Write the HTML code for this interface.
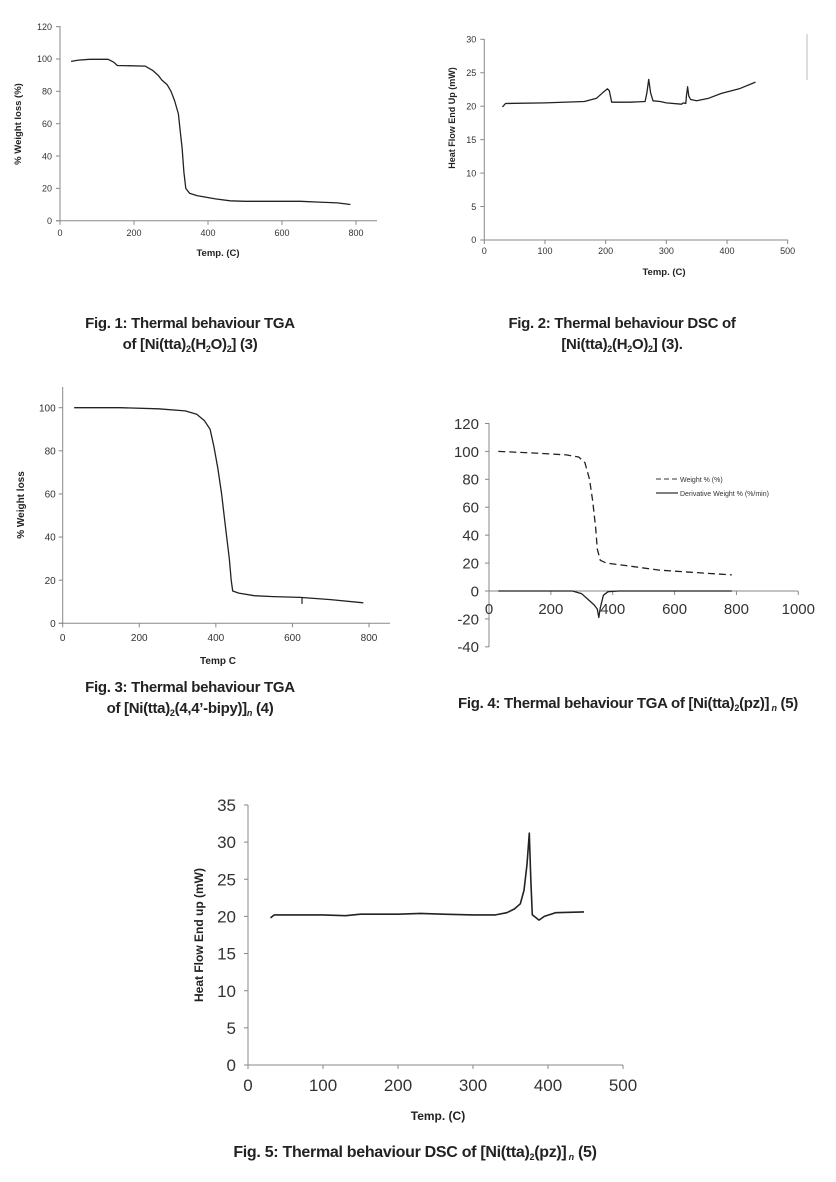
<!DOCTYPE html>
<html><head><meta charset="utf-8">
<style>
body{margin:0;background:#fff;width:836px;height:1182px;overflow:hidden;position:relative;font-family:"Liberation Sans",sans-serif;}
svg{position:absolute;left:0;top:0}
.cap{position:absolute;font-weight:bold;font-size:15px;color:#222;text-align:center;line-height:21px;letter-spacing:-0.3px}
.cap sub{font-size:9px;vertical-align:-3px;line-height:0}
</style></head><body>
<svg id="s" width="836" height="1182" xmlns="http://www.w3.org/2000/svg"></svg>
<div class="cap" style="left:40px;top:313px;width:300px">Fig. 1: Thermal behaviour TGA<br>of [Ni(tta)<sub>2</sub>(H<sub>2</sub>O)<sub>2</sub>] (3)</div>
<div class="cap" style="left:472px;top:313px;width:300px">Fig. 2: Thermal behaviour DSC of<br>[Ni(tta)<sub>2</sub>(H<sub>2</sub>O)<sub>2</sub>] (3).</div>
<div class="cap" style="left:40px;top:677px;width:300px">Fig. 3: Thermal behaviour TGA<br>of [Ni(tta)<sub>2</sub>(4,4’-bipy)]<sub><i>n</i></sub> (4)</div>
<div class="cap" style="left:416px;top:693px;width:424px">Fig. 4: Thermal behaviour TGA of [Ni(tta)<sub>2</sub>(pz)]<sub>&nbsp;<i>n</i></sub> (5)</div>
<div class="cap" style="left:195px;top:1142px;width:440px;font-size:16px">Fig. 5: Thermal behaviour DSC of [Ni(tta)<sub>2</sub>(pz)]<sub>&nbsp;<i>n</i></sub> (5)</div>
<script>
var s=document.getElementById('s'),out='';
function chart(o){
 var X=function(t){return o.x0+(t-o.xmin)*o.xs},Y=function(v){return o.y0-(v-o.vzero)*o.ys};
 var ax='#888';
 // y axis
 out+='<line x1="'+o.x0+'" y1="'+(o.ytop)+'" x2="'+o.x0+'" y2="'+o.ybot+'" stroke="'+ax+'" stroke-width="1"/>';
 // x axis
 out+='<line x1="'+(o.x0-4)+'" y1="'+o.y0+'" x2="'+o.xend+'" y2="'+o.y0+'" stroke="'+ax+'" stroke-width="1"/>';
 o.yt.forEach(function(v){var y=Y(v);out+='<line x1="'+(o.x0-4)+'" y1="'+y+'" x2="'+o.x0+'" y2="'+y+'" stroke="'+ax+'"/>';
  out+='<text x="'+(o.x0-o.ylo)+'" y="'+(y+o.fs*0.36)+'" font-size="'+o.fs+'" text-anchor="end" fill="#333">'+v+'</text>';});
 o.xt.forEach(function(t){var x=X(t);out+='<line x1="'+x+'" y1="'+o.y0+'" x2="'+x+'" y2="'+(o.y0+4)+'" stroke="'+ax+'"/>';
  out+='<text x="'+x+'" y="'+o.xly+'" font-size="'+o.fs+'" text-anchor="middle" fill="#333">'+t+'</text>';});
 if(o.xl)out+='<text x="'+o.xl[1]+'" y="'+o.xl[2]+'" font-size="'+o.xl[3]+'" font-weight="bold" text-anchor="middle" fill="#222">'+o.xl[0]+'</text>';
 if(o.yl)out+='<text transform="translate('+o.yl[1]+','+o.yl[2]+') rotate(-90)" font-size="'+o.yl[3]+'" font-weight="bold" text-anchor="middle" fill="#222">'+o.yl[0]+'</text>';
 o.series.forEach(function(sr){var p=sr.d.map(function(d){return X(d[0]).toFixed(1)+','+Y(d[1]).toFixed(1)}).join(' ');
  out+='<polyline points="'+p+'" fill="none" stroke="#222" stroke-width="'+(sr.w||1.3)+'" stroke-linejoin="round" '+(sr.dash?'stroke-dasharray="'+sr.dash+'"':'')+'/>';});
}
// Fig1
chart({x0:60,xmin:0,xs:0.37,y0:220.7,vzero:0,ys:1.617,ytop:26,ybot:220.7,xend:377,fs:9,ylo:8,xly:236,
 yt:[0,20,40,60,80,100,120],xt:[0,200,400,600,800],xl:['Temp. (C)',218,256,9.5],yl:['% Weight loss (%)',21,124,9.5],
 series:[{d:[[30,98.5],[50,99.3],[80,99.8],[130,99.8],[145,98],[155,96],[230,95.6],[250,93],[265,90],[275,87],[290,84],[300,80],[310,74],[320,66],[325,55],[330,45],[335,30],[340,20],[350,17],[370,15.5],[420,13.5],[460,12.3],[500,12],[650,12],[700,11.5],[750,11],[785,10]]}]});
// Fig2
chart({x0:484.3,xmin:0,xs:0.6068,y0:240,vzero:0,ys:6.69,ytop:39,ybot:240,xend:788,fs:9,ylo:8,xly:254,
 yt:[0,5,10,15,20,25,30],xt:[0,100,200,300,400,500],xl:['Temp. (C)',664,275,9.5],yl:['Heat Flow End Up (mW)',455,118,9],
 series:[{d:[[30,19.9],[35,20.4],[100,20.5],[165,20.7],[185,21.2],[195,22],[203,22.6],[206,22.3],[210,20.6],[240,20.6],[265,20.7],[268,22],[271,24],[274,22],[278,20.8],[290,20.7],[300,20.5],[325,20.3],[328,20.5],[332,20.4],[333,21.5],[335,22.9],[337,21.5],[340,21],[350,20.8],[370,21.2],[390,21.9],[420,22.6],[447,23.6]]}]});
out+='<line x1="807" y1="34" x2="807" y2="80" stroke="#bbb"/>';
// Fig3
chart({x0:62.7,xmin:0,xs:0.3829,y0:623.3,vzero:0,ys:2.156,ytop:387,ybot:623.3,xend:390,fs:10,ylo:7,xly:641,
 yt:[0,20,40,60,80,100],xt:[0,200,400,600,800],xl:['Temp C',218,664,10],yl:['% Weight loss',24,505,10],
 series:[{d:[[30,100],[150,100],[250,99.5],[320,98.5],[350,97],[370,94],[385,90],[395,82],[405,72],[415,60],[425,45],[435,30],[440,20],[444,15],[460,14],[500,12.8],[550,12.4],[620,12],[700,11],[785,9.5]]},{d:[[625,12],[625,9]],w:1.2}]});
// Fig4
chart({x0:489,xmin:0,xs:0.3093,y0:591,vzero:0,ys:1.396,ytop:423,ybot:647,xend:798,fs:15,ylo:10,xly:614,
 yt:[-40,-20,0,20,40,60,80,100,120],xt:[0,200,400,600,800,1000],
 series:[{d:[[30,100],[150,98.8],[250,97.5],[290,96],[310,92],[325,80],[335,65],[345,45],[350,30],[360,22],[380,20],[450,18],[550,15],[650,13.5],[785,11.5]],dash:'7,4'},
 {d:[[30,0],[270,0],[300,-2],[320,-6],[340,-10],[350,-13],[355,-19],[360,-12],[370,-3],[385,-0.5],[420,0],[785,0]]}]});
out+='<line x1="656" y1="479" x2="678" y2="479" stroke="#333" stroke-dasharray="5,3"/><text x="680" y="482" font-size="7" fill="#333">Weight % (%)</text>';
out+='<line x1="656" y1="493" x2="678" y2="493" stroke="#333" stroke-width="1.3"/><text x="680" y="496" font-size="7" fill="#333">Derivative Weight % (%/min)</text>';
// Fig5
chart({x0:248,xmin:0,xs:0.75,y0:1065,vzero:0,ys:7.43,ytop:805,ybot:1065,xend:623,fs:17,ylo:12,xly:1091,
 yt:[0,5,10,15,20,25,30,35],xt:[0,100,200,300,400,500],xl:['Temp. (C)',438,1120,12],yl:['Heat Flow End up (mW)',203,935,12],
 series:[{d:[[30,19.8],[35,20.2],[100,20.2],[130,20.1],[150,20.3],[200,20.3],[230,20.4],[260,20.3],[300,20.2],[330,20.2],[345,20.5],[355,21],[363,21.7],[368,23.5],[372,27],[375,31.2],[377,25],[379,20.2],[383,19.9],[388,19.5],[395,20],[410,20.5],[448,20.6]],w:1.6}]});
s.innerHTML=out;
</script>
</body></html>
